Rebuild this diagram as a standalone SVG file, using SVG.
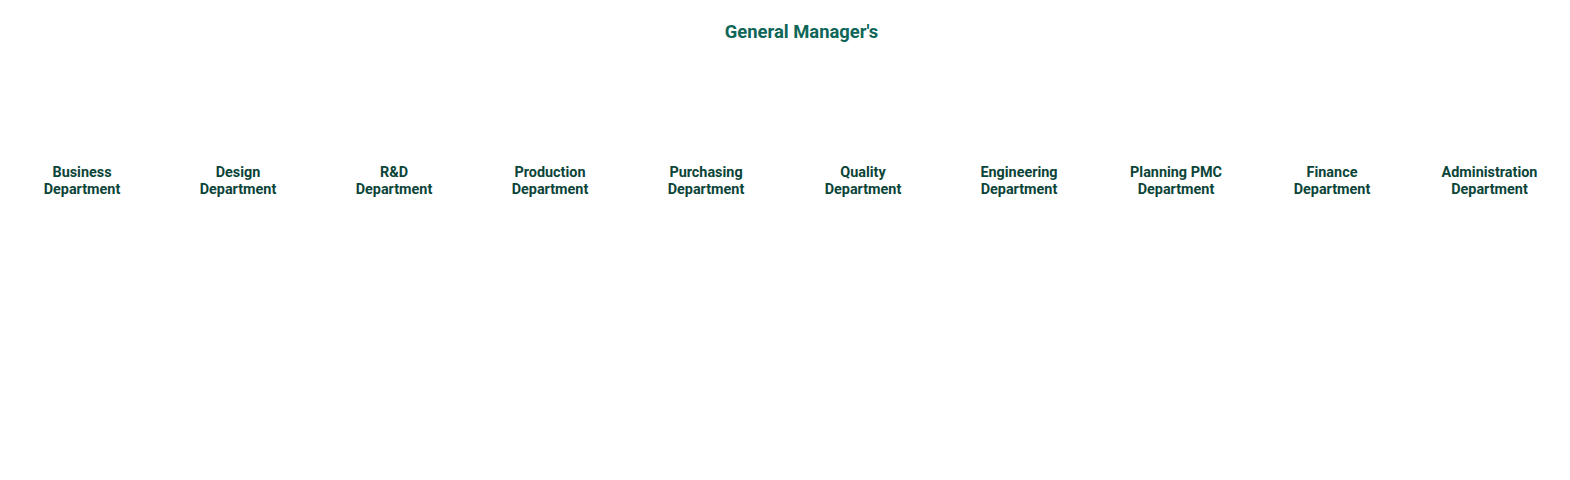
<svg xmlns="http://www.w3.org/2000/svg" width="1570" height="480" viewBox="0 0 1570 480">
<style>
.title{font-family:Roboto,"Liberation Sans",sans-serif;font-weight:bold;font-size:18.4px;fill:#0d6657;text-anchor:middle}
.dept{font-family:Roboto,"Liberation Sans",sans-serif;font-weight:bold;font-size:14.4px;fill:#0b4438;text-anchor:middle}
</style>
<rect width="1570" height="480" fill="#ffffff"/>
<g id="connectors"></g>
<g id="gm"><text class="title" x="801.5" y="38">General Manager's</text></g>
<g id="business"><text class="dept" x="82" y="177">Business<tspan x="82" y="194">Department</tspan></text></g>
<g id="design"><text class="dept" x="238" y="177">Design<tspan x="238" y="194">Department</tspan></text></g>
<g id="rnd"><text class="dept" x="394" y="177">R&amp;D<tspan x="394" y="194">Department</tspan></text></g>
<g id="production"><text class="dept" x="550" y="177">Production<tspan x="550" y="194">Department</tspan></text></g>
<g id="purchasing"><text class="dept" x="706" y="177">Purchasing<tspan x="706" y="194">Department</tspan></text></g>
<g id="quality"><text class="dept" x="863" y="177">Quality<tspan x="863" y="194">Department</tspan></text></g>
<g id="engineering"><text class="dept" x="1019" y="177">Engineering<tspan x="1019" y="194">Department</tspan></text></g>
<g id="planning"><text class="dept" x="1176" y="177">Planning PMC<tspan x="1176" y="194">Department</tspan></text></g>
<g id="finance"><text class="dept" x="1332" y="177">Finance<tspan x="1332" y="194">Department</tspan></text></g>
<g id="administration"><text class="dept" x="1489.5" y="177">Administration<tspan x="1489.5" y="194">Department</tspan></text></g>
</svg>
